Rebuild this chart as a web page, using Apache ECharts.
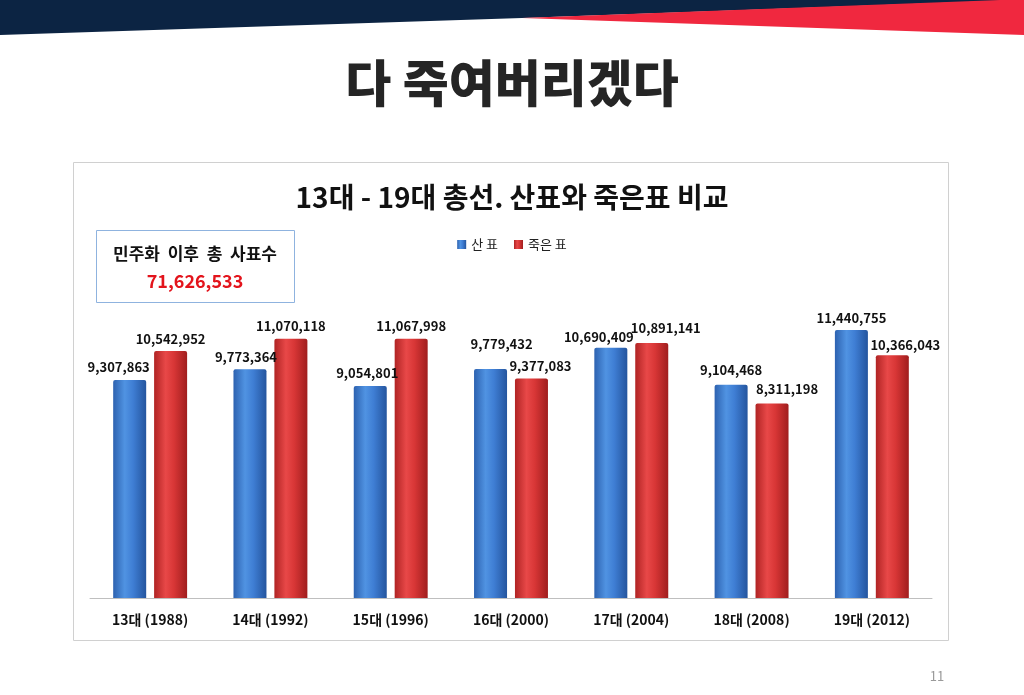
<!DOCTYPE html>
<html><head><meta charset="utf-8">
<script src="https://cdn.jsdelivr.net/npm/echarts@6/dist/echarts.min.js"></script>
<style>html,body{margin:0;padding:0;background:#fff}#c{width:1024px;height:695px}</style>
</head><body><div id="c"></div>
<script>
const categories = ['13대 (1988)','14대 (1992)','15대 (1996)','16대 (2000)','17대 (2004)','18대 (2008)','19대 (2012)'];
const sanPyo = [9307863, 9773364, 9054801, 9779432, 10690409, 9104468, 11440755];
const jugeunPyo = [10542952, 11070118, 11067998, 9377083, 10891141, 8311198, 10366043];
const seriesNames = ['산 표', '죽은 표'];
const totalDead = jugeunPyo.reduce((a, b) => a + b, 0);

// label nudges (style only) to avoid overlaps as in the original
const blueLabelShift = [[-11,0],[-4,0],[-3,0],[11,-12],[-12,2],[0,-2],[0,0]];
const redLabelShift  = [[0,0],[0,0],[0,0],[9,0],[14,-2],[15,-2],[13,2]];

const F = '"Noto Sans CJK KR", "Noto Sans", sans-serif';
const chart = echarts.init(document.getElementById('c'), null, {renderer: 'canvas'});
const fmt = v => v.toLocaleString('en-US');
const blueGrad = new echarts.graphic.LinearGradient(0, 0, 1, 0, [
  {offset: 0, color: '#2d62b0'}, {offset: 0.35, color: '#5093e2'}, {offset: 0.6, color: '#3f7ed4'}, {offset: 1, color: '#24559e'}]);
const redGrad = new echarts.graphic.LinearGradient(0, 0, 1, 0, [
  {offset: 0, color: '#b02424'}, {offset: 0.35, color: '#e84848'}, {offset: 0.6, color: '#d83636'}, {offset: 1, color: '#a01e1e'}]);
const labelBase = {show: true, position: 'top', distance: 6, formatter: p => fmt(p.value),
  fontFamily: F, fontSize: 13, fontWeight: 'bold', color: '#111'};

chart.setOption({
  backgroundColor: '#fff',
  animation: false,
  graphic: [
    {type: 'polygon', shape: {points: [[0,0],[1024,0],[1024,0],[522,18],[0,35]]}, style: {fill: '#0c2443'}},
    {type: 'polygon', shape: {points: [[522,18],[1000,0],[1024,0],[1024,35]]}, style: {fill: '#f0283f'}},
    {type: 'text', left: 'center', top: 58, style: {text: '다 죽여버리겠다', font: '900 50px ' + F, fill: '#252525'}},
    {type: 'rect', shape: {x: 73.5, y: 162.5, width: 875, height: 478}, style: {fill: 'none', stroke: '#d0d0d0', lineWidth: 1}},
    {type: 'rect', shape: {x: 96.5, y: 230.5, width: 198, height: 72}, style: {fill: '#fff', stroke: '#8fb3df', lineWidth: 1}},
    {type: 'text', x: 195, y: 254, style: {text: '민주화  이후  총  사표수', font: 'bold 17px ' + F, fill: '#111', align: 'center', verticalAlign: 'middle'}},
    {type: 'text', x: 195, y: 281, style: {text: fmt(totalDead), font: 'bold 18px ' + F, fill: '#e3141c', align: 'center', verticalAlign: 'middle'}},
    {type: 'text', x: 937, y: 676, style: {text: '11', font: '13px ' + F, fill: '#9a9a9a', align: 'center', verticalAlign: 'middle'}}
  ],
  title: {
    text: '13대 - 19대 총선. 산표와 죽은표 비교', left: 'center', top: 178,
    textStyle: {fontFamily: F, fontSize: 28, fontWeight: 'bold', color: '#111'}
  },
  legend: {
    data: seriesNames, top: 233, left: 'center', icon: 'rect', itemWidth: 9, itemHeight: 9, itemGap: 16,
    textStyle: {fontFamily: F, fontSize: 13, color: '#222'}
  },
  grid: {left: 90, right: 92, top: 317, bottom: 97, containLabel: false},
  xAxis: {
    type: 'category', data: categories,
    axisLine: {lineStyle: {color: '#bfbfbf', width: 1}},
    axisTick: {show: false},
    axisLabel: {fontFamily: F, fontSize: 14, fontWeight: 'bold', color: '#111', margin: 15}
  },
  yAxis: {type: 'value', min: 0, max: 12000000, show: false, splitLine: {show: false}},
  series: [
    {name: seriesNames[0], type: 'bar', barWidth: 33, barGap: '24%',
     data: sanPyo.map((v, i) => ({value: v, label: {offset: blueLabelShift[i]}})),
     itemStyle: {color: blueGrad, borderRadius: [2,2,0,0]},
     label: labelBase},
    {name: seriesNames[1], type: 'bar', barWidth: 33,
     data: jugeunPyo.map((v, i) => ({value: v, label: {offset: redLabelShift[i]}})),
     itemStyle: {color: redGrad, borderRadius: [2,2,0,0]},
     label: labelBase}
  ]
});
</script></body></html>
